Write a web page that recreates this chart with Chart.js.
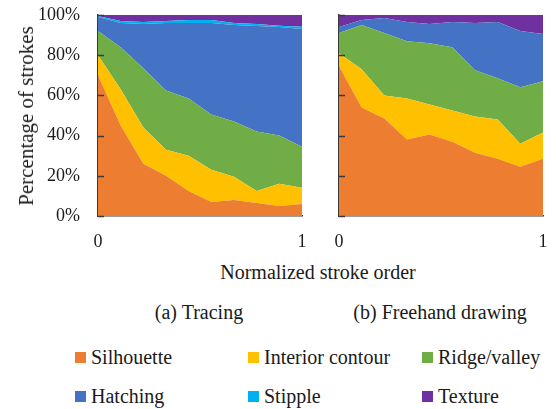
<!doctype html>
<html lang="en">
  <head>
    <meta charset="utf-8">
    <title>Stroke types over normalized stroke order</title>
    <style>
      * {
        margin: 0;
        padding: 0;
      }
      body {
        width: 556px;
        height: 409px;
        background: #fff;
        position: relative;
        overflow: hidden;
        font-family: "Liberation Serif", "Times New Roman", Times, "DejaVu Serif", serif;
        color: #1a1a1a;
      }
      .box {
        position: absolute;
      }
      .txt {
        position: absolute;
        white-space: nowrap;
        font-size: 20px;
        line-height: 20px;
      }
      .legendItem {
        position: absolute;
        font-size: 20px;
        line-height: 20px;
        white-space: nowrap;
      }
      .legendItem i {
        position: absolute;
        left: -16px;
        top: 5px;
        width: 11px;
        height: 11px;
      }
    </style>
  </head>
  <body>
    <div class="box" id="leftBox" style="left:0;top:0;width:312px;height:260px;">
      <canvas id="tracingChart"></canvas>
    </div>
    <div class="box" id="rightBox" style="left:320px;top:0;width:236px;height:260px;">
      <canvas id="freehandChart"></canvas>
    </div>

    <div class="txt" id="yTitle" style="left:26px;top:116px;font-size:21px;transform:translate(-50%,-50%) rotate(-90deg);">Percentage of strokes</div>
    <div class="txt" style="left:318px;top:272px;transform:translate(-50%,-50%);">Normalized stroke order</div>
    <div class="txt" style="left:199px;top:312px;transform:translate(-50%,-50%);">(a) Tracing</div>
    <div class="txt" style="left:440px;top:312px;transform:translate(-50%,-50%);">(b) Freehand drawing</div>
    <div id="legend"></div>

    <script src="https://cdn.jsdelivr.net/npm/chart.js/dist/chart.umd.min.js"></script>
    <script>

    // stroke order positions, 0 .. 1 (only the ends are labelled)
    const strokeOrder = ['0', '', '', '', '', '', '', '', '', '1'];
    const yTicks = [0, 20, 40, 60, 80, 100];

    const categories = ['Silhouette', 'Interior contour', 'Ridge/valley', 'Hatching', 'Stipple', 'Texture'];
    const colors = ['#ED7D31', '#FFC000', '#70AD47', '#4472C4', '#00B0F0', '#7030A0'];

    // (a) Tracing - share of each stroke type, percent
    const tracingSilhouette = [70, 45, 26, 20, 12.5, 7, 8, 6.5, 5, 6];
    const tracingInterior   = [10, 18, 18, 13, 17.5, 16, 11.5, 6, 11, 8];
    const tracingRidge      = [12, 21, 29.5, 29.5, 28.5, 27.5, 27.5, 29.5, 24, 20.5];
    const tracingHatching   = [7, 12, 22, 33.5, 37.5, 45.5, 48, 52.5, 54, 58.5];
    const tracingStipple    = [0.5, 1, 1, 1, 1.5, 1.5, 1, 1, 0.7, 1.2];
    const tracingTexture    = [0.5, 3, 3.5, 3, 2.5, 2.5, 4, 4.5, 5.3, 5.8];

    // (b) Freehand drawing
    const freehandSilhouette = [74.5, 54, 48.5, 38, 40.5, 37, 31.5, 28.5, 24.5, 28.5];
    const freehandInterior   = [6.5, 19, 11.5, 20.5, 15, 15.5, 18, 19.5, 11.5, 13];
    const freehandRidge      = [10, 22, 31, 28.5, 30.5, 31.5, 23, 20.5, 28, 25.5];
    const freehandHatching   = [3, 2.5, 7.5, 9.5, 9.5, 12.5, 23.5, 28, 28, 23.5];
    const freehandStipple    = [0, 0, 0, 0, 0, 0, 0, 0, 0, 0];
    const freehandTexture    = [6, 2.5, 1.5, 3.5, 4.5, 3.5, 4, 3.5, 8, 9.5];

    const axisColor = '#3a3a3a';
    const serif = '"Liberation Serif", "Times New Roman", Times, "DejaVu Serif", serif';

    // small tick marks drawn inside the plot, on the y axis
    const innerTicks = {
        id: 'innerTicks',
        afterDatasetsDraw(chart) {
            const {ctx, chartArea} = chart;
            const y = chart.scales.y;
            ctx.save();
            ctx.strokeStyle = axisColor;
            ctx.lineWidth = 1.5;
            yTicks.forEach(v => {
                const py = Math.round(y.getPixelForValue(v)) + 0.5;
                ctx.beginPath();
                ctx.moveTo(chartArea.left, py);
                ctx.lineTo(chartArea.left + 6, py);
                ctx.stroke();
            });
            ctx.restore();
        }
    };

    function makeDatasets(series) {
        return series.map((values, i) => ({
            label: categories[i],
            data: values,
            backgroundColor: colors[i],
            borderColor: colors[i],
            borderWidth: 0,
            pointRadius: 0,
            tension: 0,
            fill: i === 0 ? 'origin' : '-1'
        }));
    }

    function createChart(canvasId, series, showYLabels, yWidth, padRight) {
        const ctx = document.getElementById(canvasId);
        return new Chart(ctx, {
            type: 'line',
            data: {
                labels: strokeOrder,
                datasets: makeDatasets(series)
            },
            options: {
                responsive: true,
                maintainAspectRatio: false,
                animation: false,
                layout: {
                    padding: {top: 15, right: padRight, left: 0, bottom: 0}
                },
                plugins: {
                    legend: {display: false},
                    tooltip: {enabled: false}
                },
                scales: {
                    x: {
                        offset: false,
                        // tick marks are not drawn (grid hidden), their length only pushes labels down
                        grid: {display: false, drawTicks: true, tickLength: 14},
                        border: {display: true, color: axisColor, width: 1.5},
                        ticks: {
                            autoSkip: false,
                            maxRotation: 0,
                            padding: 1,
                            color: '#1a1a1a',
                            font: {family: serif, size: 18}
                        },
                        afterFit(scale) { scale.height = 44; }
                    },
                    y: {
                        stacked: true,
                        min: 0,
                        max: 100,
                        grid: {display: false, drawTicks: true, tickLength: 16},
                        border: {display: true, color: axisColor, width: 1.5},
                        ticks: {
                            display: showYLabels,
                            stepSize: 20,
                            padding: 2,
                            color: '#1a1a1a',
                            font: {family: serif, size: 18},
                            callback: v => v + '%'
                        },
                        afterFit(scale) { scale.width = yWidth; }
                    }
                }
            },
            plugins: [innerTicks]
        });
    }

    createChart('tracingChart',
        [tracingSilhouette, tracingInterior, tracingRidge, tracingHatching, tracingStipple, tracingTexture],
        true, 98, 10);
    createChart('freehandChart',
        [freehandSilhouette, freehandInterior, freehandRidge, freehandHatching, freehandStipple, freehandTexture],
        false, 19, 13);

    // legend, two rows of three
    const legendCols = [91, 264, 438];
    const legendRows = [347, 386];
    const legend = document.getElementById('legend');
    categories.forEach((name, i) => {
        const item = document.createElement('div');
        item.className = 'legendItem';
        item.style.left = legendCols[i % 3] + 'px';
        item.style.top = legendRows[Math.floor(i / 3)] + 'px';
        item.innerHTML = '<i style="background:' + colors[i] + '"></i>' + name;
        legend.appendChild(item);
    });

    </script>
  </body>
</html>
